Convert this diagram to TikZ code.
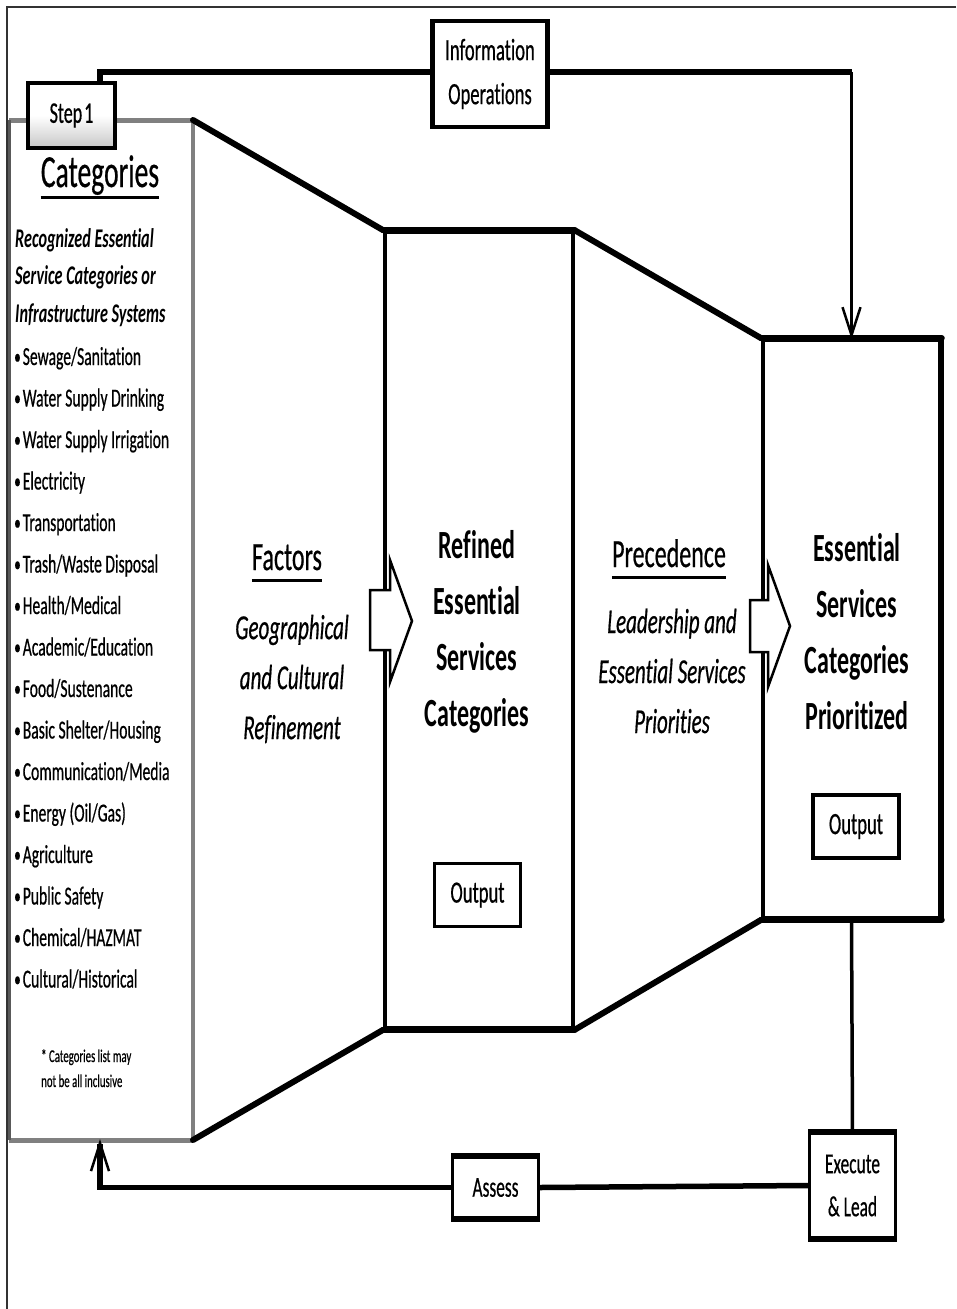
\documentclass[tikz,border=0pt]{standalone}
\usepackage{fontspec}
\setmainfont{Carlito}[FakeStretch=0.6, Ligatures=NoCommon,
  UprightFeatures={FakeBold=0.5}, ItalicFeatures={FakeBold=0.5}]
\usetikzlibrary{arrows.meta}

\newcommand{\listbullet}{\raisebox{1pt}{\fontsize{22}{20}\selectfont\textbullet}\kern2pt}

\begin{document}
\begin{tikzpicture}[x=1pt,y=-1pt,
  txt/.style={inner sep=0pt, align=center},
  thickline/.style={line width=6pt, line cap=round},
  thinline/.style={line width=3.5pt},
  conn/.style={line width=5.5pt},
  connthin/.style={line width=3.5pt},
  barb/.style={-{Straight Barb[length=28pt,width=18pt,line width=2.5pt]}},
  smallbox/.style={draw, line width=4.5pt, fill=white, inner sep=0pt, align=center,
                   font=\fontsize{31}{44}\selectfont},
  outbox/.style={draw, line width=3.5pt, fill=white, inner sep=0pt,
                 minimum width=86pt, minimum height=63pt, font=\fontsize{31}{36}\selectfont},
  panel/.style={draw=black!50, line width=5pt},
  blockarrow/.style={draw, line width=2.5pt, fill=white, line join=miter},
  item/.style={inner sep=0pt, anchor=base west, font=\fontsize{26}{30}\selectfont},
  head/.style={inner sep=0pt, anchor=base west, font=\fontsize{27}{30}\selectfont\bfseries\itshape},
]
\useasboundingbox (0,0) rectangle (956,1309);

% outer frame
\draw[line width=2pt, black!80] (956,7) -- (7,7) -- (7,1309);

% left panel: recognised categories
\draw[panel, line width=3.5pt] (193,120) -- (193,1140);
\draw[panel] (9,120) -- (193,120);
\draw[panel] (9,1140) -- (193,1140);
\draw[line width=3pt, black!65] (9,120) -- (9,1140);
\coordinate (catNE) at (193,120);
\coordinate (catSE) at (193,1140);
\coordinate (catbot) at (100,1140);

% middle and right boxes
\node[draw, thinline, minimum width=188pt, minimum height=796pt, inner sep=0pt] (ref) at (479,630) {};
\node[draw, thinline, minimum width=177pt, minimum height=578pt, inner sep=0pt] (ess) at (851.5,629) {};
\draw[thickline] (ref.north west) -- (ref.north east);
\draw[thickline] (ref.south west) -- (ref.south east);
\draw[thickline] (ess.north west) -- (ess.north east);
\draw[thickline] (ess.south west) -- (ess.south east);
\draw[line width=4pt] (ess.north east) -- (ess.south east);

% funnel edges
\draw[thickline] (catNE) -- (ref.north west);
\draw[thickline] (catSE) -- (ref.south west);
\draw[thickline] (ref.north east) -- (ess.north west);
\draw[thickline] (ref.south east) -- (ess.south west);

% block arrows
\draw[blockarrow] (370,590) -- (390,590) -- (390,560) -- (412,621) -- (390,682) -- (390,650) -- (370,650) -- cycle;
\draw[blockarrow] (750,600) -- (768,600) -- (768,565) -- (790,626) -- (768,687) -- (768,652) -- (750,652) -- cycle;

% step label and top loop
\node[smallbox, line width=4pt, minimum width=87pt, minimum height=65pt,
      top color=white, bottom color=black!22, middle color=white,
      font=\fontsize{30}{36}\selectfont] (step1) at (71.5,115.5) {Step\kern2pt1};
\coordinate (s1top) at (100,83);
\node[smallbox, minimum width=115pt, minimum height=106pt] (info) at (490,74) {Information\\Operations};
\coordinate (ioturn) at (ess.north |- 0,72);
\draw[conn] (s1top) |- (info.west |- ioturn);
\draw[conn] (info.east |- ioturn) -- (ioturn);
\draw[connthin, barb] (ioturn) -- ([yshift=-1pt]ess.north);

% bottom loop
\node[draw, line width=3pt, fill=white, inner sep=0pt, align=center, minimum width=86pt, minimum height=104pt,
      font=\fontsize{29}{43}\selectfont] (exec) at (852.5,1185.5) {Execute\\\& Lead};
\node[draw, line width=3pt, fill=white, inner sep=0pt, minimum width=86pt, minimum height=60pt,
      font=\fontsize{29}{34}\selectfont] (assess) at (495.5,1187.5) {Assess};
\draw[line width=6pt] (exec.north west) -- (exec.north east);
\draw[line width=6pt] (exec.south west) -- (exec.south east);
\draw[line width=6pt] (assess.north west) -- (assess.north east);
\draw[line width=6pt] (assess.south west) -- (assess.south east);
\draw[connthin] (ess.south) -- (exec.north);
\draw[conn] (exec.west) -- (assess.east);
\draw[conn, barb] (assess.west) -| ([yshift=1pt]catbot);

% left panel text
\node[inner sep=0pt, anchor=base, font=\fontsize{46}{50}\selectfont] (cathead) at (100,187) {Categories};
\draw[line width=3pt] ([yshift=-10pt]cathead.base west) -- ([yshift=-10pt]cathead.base east);
\node[head] (h1) at (15,247) {Recognized Essential};
\node[head] (h2) at (15,284.5) {Service Categories or};
\node[head] (h3) at (15,322) {Infrastructure Systems};
\foreach \t [count=\i] in {Sewage/Sanitation, Water Supply Drinking, Water Supply Irrigation,
  Electricity, Transportation, Trash/Waste Disposal, Health/Medical, Academic/Education,
  Food/Sustenance, Basic Shelter/Housing, Communication/Media, Energy (Oil/Gas),
  Agriculture, Public Safety, Chemical/HAZMAT, Cultural/Historical}
  \node[item] (item\i) at (14,{365+41.5*(\i-1)}) {\listbullet\t};
\node[inner sep=0pt, anchor=base west, font=\fontsize{18}{20}\selectfont] (note1) at (41,1062) {* Categories list may};
\node[inner sep=0pt, anchor=base west, font=\fontsize{18}{20}\selectfont] (note2) at (41,1087) {not be all inclusive};

% factors column
\node[inner sep=0pt, anchor=base, font=\fontsize{40}{44}\selectfont] (factors) at (287,570) {Factors};
\draw[line width=3pt] ([yshift=-10pt]factors.base west) -- ([yshift=-10pt]factors.base east);
\node[txt, font=\fontsize{35}{50}\selectfont\itshape] (geo) at (292,679) {Geographical\\and Cultural\\Refinement};

% refined column
\node[txt, font=\fontsize{40}{56}\selectfont\bfseries] (reftxt) at (477,632) {Refined\\Essential\\Services\\Categories};
\node[outbox] (out1) at (477.5,895) {Output};

% precedence column
\node[inner sep=0pt, anchor=base, font=\fontsize{40}{44}\selectfont] (prec) at (669,567) {Precedence};
\draw[line width=3pt] ([yshift=-10pt]prec.base west) -- ([yshift=-10pt]prec.base east);
\node[txt, font=\fontsize{35}{50}\selectfont\itshape] (lead) at (672,671) {Leadership and\\Essential Services\\Priorities};

% prioritized column
\node[txt, font=\fontsize{40}{56}\selectfont\bfseries] (esstxt) at (857,632) {Essential\\Services\\Categories\\Prioritized};
\node[outbox] (out2) at (856,826.5) {Output};
\end{tikzpicture}
\end{document}
